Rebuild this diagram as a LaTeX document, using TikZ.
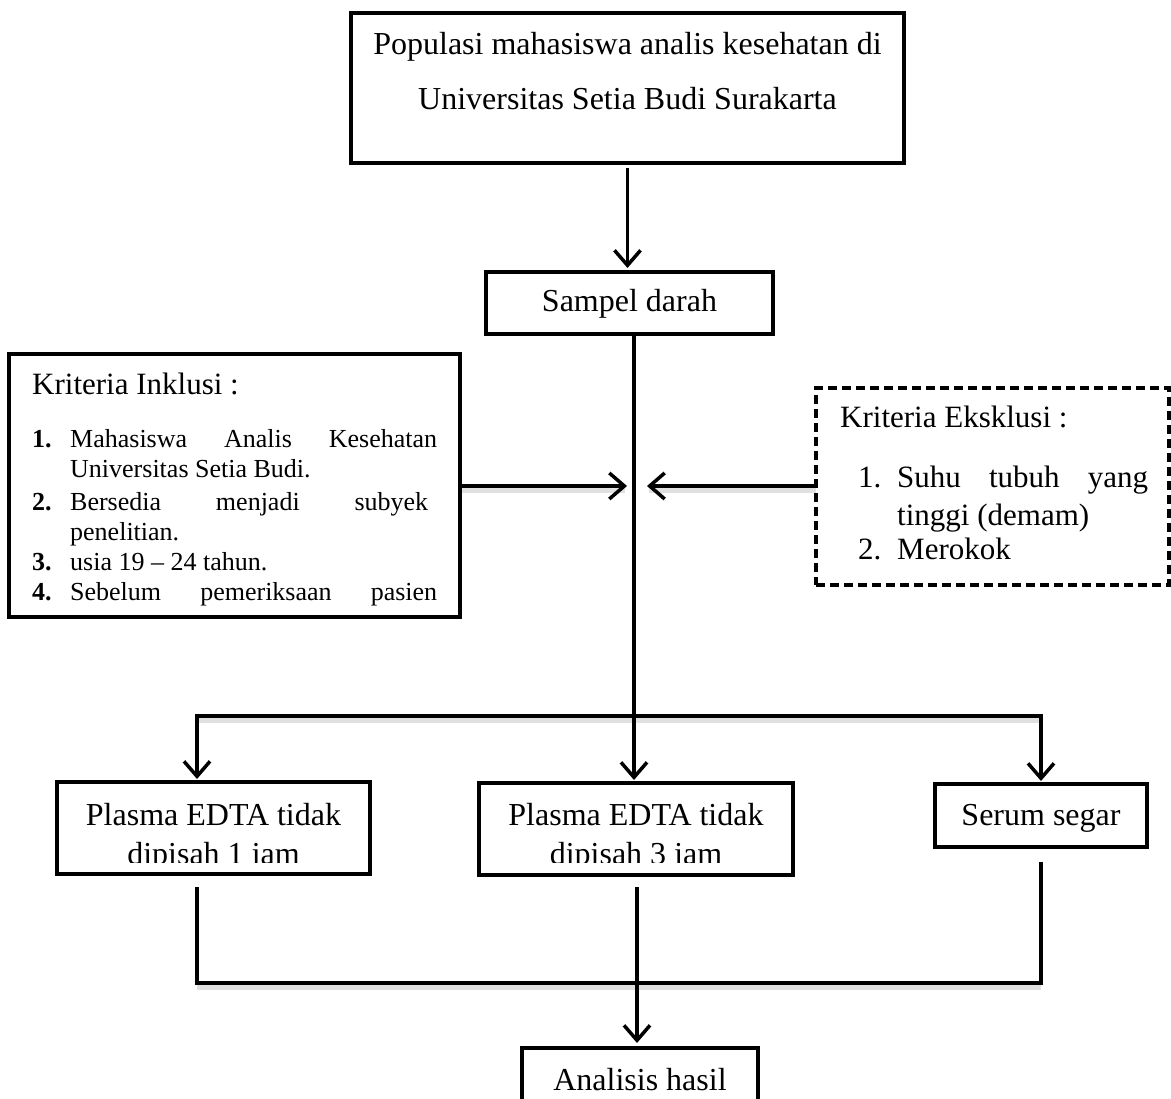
\documentclass[tikz,border=0pt]{standalone}
\usepackage{fontspec}
\setmainfont{Liberation Serif}
\usetikzlibrary{arrows.meta}
\begin{document}
\begin{tikzpicture}[x=1pt,y=-1pt,
  box/.style={draw, line width=3.8pt, rectangle, inner sep=0pt, outer sep=0pt},
  dbox/.style={box, line width=3.5pt, dash pattern=on 9pt off 5pt},
  conn/.style={line width=3.2pt},
  arr/.style={conn, -{Straight Barb[length=15pt,width=26pt,line width=3.5pt]}},
  shade/.style={line width=6pt, black, opacity=0.12},
  txt/.style={font=\fontsize{32}{38}\selectfont, inner sep=0pt, anchor=base},
  ttl/.style={font=\fontsize{31}{36}\selectfont, inner sep=0pt, anchor=base west},
  itm/.style={font=\fontsize{26}{30}\selectfont, inner sep=0pt, anchor=base west},
  eitm/.style={font=\fontsize{31}{36}\selectfont, inner sep=0pt, anchor=base west},
]
\useasboundingbox (0,0) rectangle (1171,1099);
\clip (0,0) rectangle (1171,1099);

% boxes
\node[box, minimum width=553pt, minimum height=150pt] (top) at (627.5,88) {};
\node[box, minimum width=287pt, minimum height=62pt] (sampel) at (629.5,303) {};
\node[box, minimum width=451pt, minimum height=263pt] (inkl) at (234.5,485.5) {};
\node[dbox, minimum width=353pt, minimum height=197pt] (eks) at (992.5,486.5) {};
\node[box, minimum width=313pt, minimum height=92pt] (left) at (213.5,828) {};
\node[box, minimum width=314pt, minimum height=92pt] (mid) at (636,829) {};
\node[box, minimum width=212pt, minimum height=63pt] (right) at (1041,815.5) {};
\node[box, minimum width=236pt, minimum height=80pt] (ana) at (640,1088) {};

% coordinates
\coordinate (v) at (634,486);
\coordinate (sl) at (197,716);
\coordinate (sr) at (1041,716);
\coordinate (jl) at (197,983);
\coordinate (jr) at (1041,983);
\coordinate (jm) at (637,983);

% shadows of horizontal lines
\draw[shade] ([yshift=-4pt]sl) -- ([yshift=-4pt]sr);
\draw[shade] ([yshift=-4pt]jl) -- ([yshift=-4pt]jr);
\draw[shade] ([yshift=-4pt]inkl.east |- v) -- ([xshift=-9pt,yshift=-4pt]v);
\draw[shade] ([yshift=-4pt]eks.west |- v) -- ([xshift=15pt,yshift=-4pt]v);

% connectors
\draw[arr, shorten <=5pt, shorten >=4pt] (top.south) -- (top.south |- sampel.north);
\draw[arr, shorten >=3pt] (sampel.south -| v) -- (v |- mid.north);
\draw[arr] (inkl.east |- v) -- ([xshift=-7pt]v);
\draw[arr] (eks.west |- v) -- ([xshift=13pt]v);
\draw[conn, line cap=rect] (sl) -- (sr);
\draw[arr, shorten >=3pt] (sl) -- (sl |- left.north);
\draw[arr, shorten >=3pt] (sr) -- (sr |- right.north);
\draw[conn, shorten <=13pt, shorten >=15pt] (jl |- left.south) -- (jl) -- (jr) -- (jr |- right.south);
\draw[arr, shorten <=12pt, shorten >=5pt] (jm |- mid.south) -- (jm |- ana.north);

% texts
\node[txt] (t1) at (627.5,55) {Populasi mahasiswa analis kesehatan di};
\node[txt] (t2) at (627.5,110) {Universitas Setia Budi Surakarta};
\node[txt] (ts) at (629.5,312) {Sampel darah};

\node[ttl] (it) at (32,395) {Kriteria Inklusi :};
\node[itm] (i1n) at (32,448) {\bfseries 1.};
\node[itm] (i1a) at (70,448) {\makebox[367pt][s]{Mahasiswa Analis Kesehatan}};
\node[itm] (i1b) at (70,478) {Universitas Setia Budi.};
\node[itm] (i2n) at (32,510) {\bfseries 2.};
\node[itm] (i2a) at (70,510) {\makebox[358pt][s]{Bersedia menjadi subyek}};
\node[itm] (i2b) at (70,540) {penelitian.};
\node[itm] (i3n) at (32,570) {\bfseries 3.};
\node[itm] (i3a) at (70,570) {usia 19 – 24 tahun.};
\node[itm] (i4n) at (32,600) {\bfseries 4.};
\node[itm] (i4a) at (70,600) {\makebox[367pt][s]{Sebelum pemeriksaan pasien}};

\node[ttl] (et) at (840,428) {Kriteria Eksklusi :};
\node[eitm] (e1n) at (858,487) {1.};
\node[eitm] (e1a) at (897,487) {\makebox[251pt][s]{Suhu tubuh yang}};
\node[eitm] (e1b) at (897,525) {tinggi (demam)};
\node[eitm] (e2n) at (858,559) {2.};
\node[eitm] (e2a) at (897,559) {Merokok};

\begin{scope}
\clip (57,782) rectangle (793,862);
\node[txt] (l1) at (213.5,825) {Plasma EDTA tidak};
\node[txt] (l2) at (213.5,864) {dipisah 1 jam};
\node[txt] (m1) at (636,825) {Plasma EDTA tidak};
\node[txt] (m2) at (636,864) {dipisah 3 jam};
\end{scope}
\node[txt] (r1) at (1041,825) {Serum segar};
\node[txt] (a1) at (640,1090) {Analisis hasil};
\end{tikzpicture}
\end{document}
